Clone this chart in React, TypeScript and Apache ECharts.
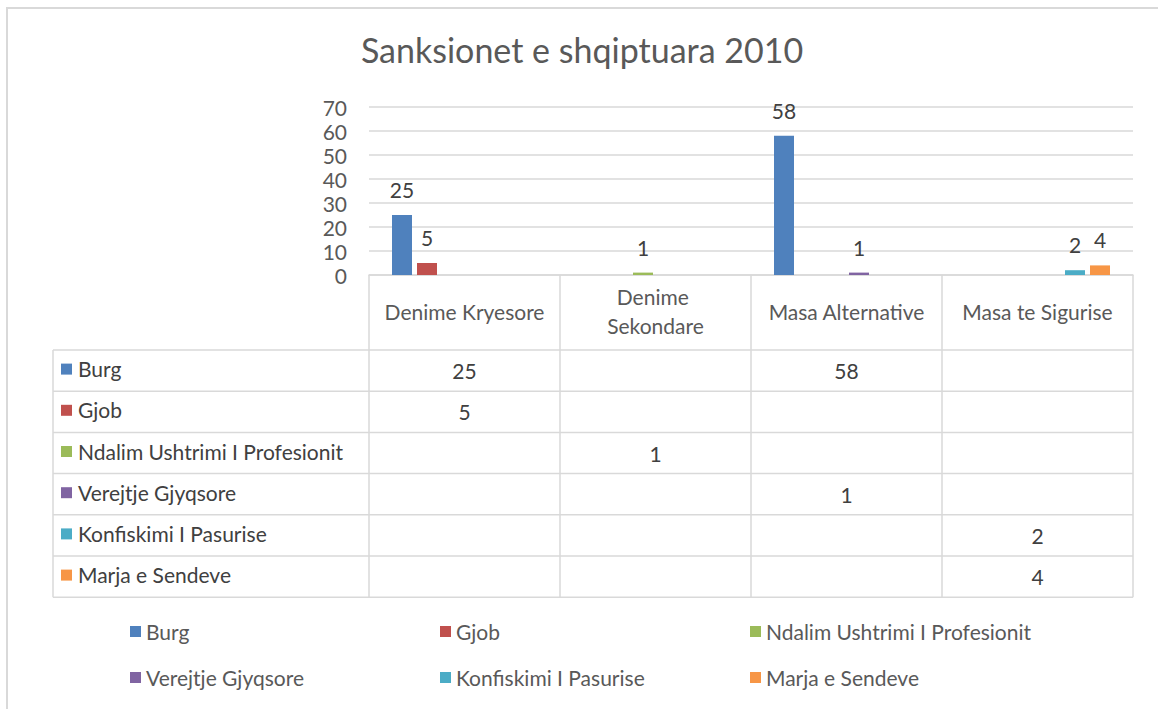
import React, { useEffect, useRef } from "react";
import * as echarts from "echarts";

const TITLE = "Sanksionet e shqiptuara 2010";
const categories = ["Denime Kryesore", "Denime Sekondare", "Masa Alternative", "Masa te Sigurise"];
const seriesNames = [
  "Burg",
  "Gjob",
  "Ndalim Ushtrimi I Profesionit",
  "Verejtje Gjyqsore",
  "Konfiskimi I Pasurise",
  "Marja e Sendeve",
];
const burg = [25, null, 58, null];
const gjob = [5, null, null, null];
const ndalim = [null, 1, null, null];
const verejtje = [null, null, 1, null];
const konfiskimi = [null, null, null, 2];
const marja = [null, null, null, 4];
const seriesValues: (number | null)[][] = [burg, gjob, ndalim, verejtje, konfiskimi, marja];
const colors = ["#4F81BD", "#C0504D", "#9BBB59", "#8064A2", "#4BACC6", "#F79646"];
const Y_MIN = 0;
const Y_MAX = 70;
const Y_INTERVAL = 10;

const W = 1158;
const H = 709;
const FONT = "Lato";
const FS = 21;
const GRID = { left: 369, right: 25, top: 107, bottom: 434 };
const TABLE_LEFT = 53;
const ROW_TOP = 350;
const ROW_H = 41.2;
const LINE = "#d9d9d9";
const LEGEND_COLS = [130, 440, 750];
const LEGEND_TOP = 621;

export default function App() {
  const ref = useRef<HTMLDivElement>(null);
  useEffect(() => {
    if (!ref.current) return;
    const chart = echarts.init(ref.current, undefined, { renderer: "svg", width: W, height: H });
    const axisBottom = H - GRID.bottom;
    const tableBottom = ROW_TOP + ROW_H * seriesNames.length;
    const nCols = LEGEND_COLS.length;
    const legends = LEGEND_COLS.map((left, c) => ({
      left,
      top: LEGEND_TOP,
      orient: "vertical",
      padding: 0,
      icon: "rect",
      itemWidth: 11,
      itemHeight: 11,
      itemGap: 25,
      data: seriesNames.filter((_, i) => i % nCols === c),
      textStyle: { fontFamily: FONT, fontSize: FS, color: "#595959" },
    }));
    chart.setOption({
      animation: false,
      backgroundColor: "#ffffff",
      color: colors,
      title: {
        text: TITLE,
        left: 582,
        top: 32,
        padding: 0,
        textAlign: "center",
        textStyle: { fontFamily: FONT, fontSize: 34, fontWeight: "normal", color: "#595959" },
      },
      grid: { left: GRID.left, right: GRID.right, top: GRID.top, bottom: GRID.bottom, containLabel: false },
      legend: legends,
      xAxis: {
        type: "category",
        data: categories,
        boundaryGap: true,
        axisLine: { show: true, lineStyle: { color: LINE, width: 1.5 } },
        axisTick: { show: true, length: tableBottom - axisBottom, lineStyle: { color: LINE, width: 1.5 } },
        axisLabel: {
          interval: 0,
          margin: 36,
          verticalAlign: "middle",
          fontFamily: FONT,
          fontSize: FS,
          lineHeight: 29,
          color: "#595959",
          width: 166,
          overflow: "break",
        },
      },
      yAxis: {
        type: "value",
        min: Y_MIN,
        max: Y_MAX,
        interval: Y_INTERVAL,
        axisLine: { show: false },
        axisTick: { show: false },
        axisLabel: { fontFamily: FONT, fontSize: FS, color: "#595959", margin: 22 },
        splitLine: { lineStyle: { color: LINE, width: 1.5 } },
      },
      series: seriesNames.map((name, i) => ({
        name,
        type: "bar",
        data: seriesValues[i],
        barWidth: 20,
        barGap: "25%",
        itemStyle: { color: colors[i] },
        label: {
          show: true,
          position: "top",
          distance: 15,
          fontFamily: FONT,
          fontSize: FS,
          color: "#404040",
        },
      })),
    });

    const colCenters = categories.map((c, j) => chart.convertToPixel({ xAxisIndex: 0 }, j) as number);
    const band = colCenters.length > 1 ? colCenters[1] - colCenters[0] : 0;
    const tableRight = colCenters[colCenters.length - 1] + band / 2;
    const graphics: any[] = [
      {
        type: "rect",
        shape: { x: 7, y: 8, width: W + 20, height: H + 20 },
        style: { fill: "none", stroke: LINE, lineWidth: 2 },
        silent: true,
      },
      {
        type: "line",
        shape: { x1: TABLE_LEFT, y1: ROW_TOP, x2: TABLE_LEFT, y2: tableBottom },
        style: { stroke: LINE, lineWidth: 1.5 },
      },
    ];
    for (let r = 0; r <= seriesNames.length; r++) {
      const y = ROW_TOP + r * ROW_H;
      graphics.push({
        type: "line",
        shape: { x1: TABLE_LEFT, y1: y, x2: tableRight, y2: y },
        style: { stroke: LINE, lineWidth: 1.5 },
      });
    }
    seriesNames.forEach((name, i) => {
      const cy = ROW_TOP + (i + 0.5) * ROW_H;
      graphics.push({
        type: "rect",
        shape: { x: 61, y: cy - 7, width: 11, height: 11 },
        style: { fill: colors[i] },
      });
      graphics.push({
        type: "text",
        x: 78,
        y: cy - 2,
        style: { text: name, fontFamily: FONT, fontSize: FS, fill: "#404040", verticalAlign: "middle", align: "left" },
      });
      seriesValues[i].forEach((v, j) => {
        if (v === null || v === undefined) return;
        graphics.push({
          type: "text",
          x: colCenters[j],
          y: cy,
          style: { text: String(v), fontFamily: FONT, fontSize: FS, fill: "#404040", verticalAlign: "middle", align: "center" },
        });
      });
    });
    chart.setOption({ graphic: graphics });
    return () => chart.dispose();
  }, []);
  return <div ref={ref} style={{ position: "fixed", left: 0, top: 0, width: W, height: H }} />;
}
